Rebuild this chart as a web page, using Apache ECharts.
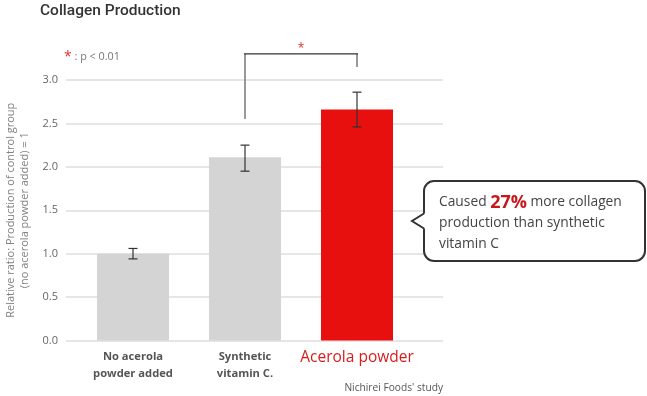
<!DOCTYPE html>
<html><head><meta charset="utf-8">
<script src="https://cdn.jsdelivr.net/npm/echarts@6/dist/echarts.min.js"></script>
<style>html,body{margin:0;padding:0;background:#fff}#c{width:647px;height:396px}</style>
</head><body><div id="c"></div>
<script>
const categories = ['No acerola\npowder added', 'Synthetic\nvitamin C.', 'Acerola powder'];
const values = [1.0, 2.11, 2.66];
const errLow = [0.94, 1.95, 2.46];
const errHigh = [1.06, 2.25, 2.86];
const barColors = ['#d4d4d4', '#d4d4d4', '#e80f0f'];
const yMin = 0, yMax = 3, yStep = 0.5;
// significance bracket: [fromIndex, toIndex, leftBottom, rightBottom, top]
const bracket = [1, 2, 2.55, 3.15, 3.30];

const FONT = '"Open Sans", Roboto, sans-serif';
const TFONT = 'Roboto, sans-serif';
const chart = echarts.init(document.getElementById('c'), null, {renderer: 'canvas'});

chart.setOption({
  animation: false,
  textStyle: {fontFamily: FONT},
  title: {text: 'Collagen Production', left: 40, top: 3, padding: 0,
    textStyle: {fontSize: 15.5, fontWeight: 500, color: '#333', fontFamily: TFONT}},
  grid: [
    {left: 66, right: 204, top: 80, bottom: 55.5, outerBoundsMode: 'none', containLabel: false},
    {left: 77, right: 234, top: 80, bottom: 55.5, outerBoundsMode: 'none', containLabel: false}
  ],
  xAxis: [
    {gridIndex: 0, type: 'value', min: 0, max: 1, show: false},
    {gridIndex: 1, type: 'category', data: categories,
      axisLine: {show: false}, axisTick: {show: false},
      axisLabel: {margin: 8, interval: 0,
        formatter: function (v, i) { return i === 2 ? '{r|' + v + '}' : '{g|' + v + '}'; },
        rich: {
          g: {fontSize: 11.2, fontWeight: 'bold', color: '#555', lineHeight: 17, fontFamily: FONT},
          r: {fontSize: 15.5, color: '#d81c1c', lineHeight: 18, fontFamily: FONT}
        }}}
  ],
  yAxis: [
    {gridIndex: 0, type: 'value', min: yMin, max: yMax, interval: yStep,
      axisLine: {show: false}, axisTick: {show: false},
      splitLine: {lineStyle: {color: '#dedede', width: 1.5}},
      axisLabel: {margin: 8, fontSize: 11, color: '#666', fontFamily: FONT, formatter: v => v.toFixed(1)},
      name: 'Relative ratio: Production of control group\n(no acerola powder added) = 1',
      nameLocation: 'middle', nameRotate: 90, nameGap: 12,
      nameTextStyle: {fontSize: 11, color: '#808080', lineHeight: 14, fontFamily: FONT}},
    {gridIndex: 1, type: 'value', min: yMin, max: yMax, interval: yStep, show: false}
  ],
  series: [
    {type: 'bar', xAxisIndex: 1, yAxisIndex: 1, barWidth: 72,
      data: values.map((v, i) => ({value: v, itemStyle: {color: barColors[i]}}))},
    {type: 'custom', xAxisIndex: 1, yAxisIndex: 1, z: 5,
      data: categories.map((c, i) => [i, errLow[i], errHigh[i]]),
      renderItem: function (params, api) {
        const lo = api.coord([api.value(0), api.value(1)]);
        const hi = api.coord([api.value(0), api.value(2)]);
        const w = 4.5;
        const st = {stroke: '#333', lineWidth: 1.2};
        return {type: 'group', children: [
          {type: 'line', shape: {x1: lo[0], y1: lo[1], x2: hi[0], y2: hi[1]}, style: st},
          {type: 'line', shape: {x1: lo[0] - w, y1: lo[1], x2: lo[0] + w, y2: lo[1]}, style: st},
          {type: 'line', shape: {x1: hi[0] - w, y1: hi[1], x2: hi[0] + w, y2: hi[1]}, style: st}
        ]};
      }},
    {type: 'custom', xAxisIndex: 1, yAxisIndex: 1, z: 5, clip: false,
      data: [bracket],
      renderItem: function (params, api) {
        const a = api.coord([api.value(0), api.value(2)]);
        const b = api.coord([api.value(1), api.value(3)]);
        const t1 = api.coord([api.value(0), api.value(4)]);
        const t2 = api.coord([api.value(1), api.value(4)]);
        const grey = {stroke: '#999', lineWidth: 2};
        return {type: 'group', children: [
          {type: 'line', shape: {x1: a[0], y1: a[1], x2: t1[0], y2: t1[1]}, style: grey},
          {type: 'line', shape: {x1: b[0], y1: b[1], x2: t2[0], y2: t2[1]}, style: grey},
          {type: 'line', shape: {x1: t1[0] - 1, y1: t1[1], x2: t2[0] + 1, y2: t2[1]}, style: {stroke: '#333', lineWidth: 1.2}},
          {type: 'text', style: {text: '*', x: (t1[0] + t2[0]) / 2, y: t1[1] - 5, fill: '#e03030',
            fontSize: 12, align: 'center', verticalAlign: 'middle', fontFamily: FONT}}
        ]};
      }}
  ],
  graphic: [
    {type: 'text', x: 64, y: 50, style: {
      text: '{a|*}{t| : p < 0.01}', rich: {
        a: {fill: '#e03030', fontSize: 14, fontFamily: FONT},
        t: {fill: '#777', fontSize: 10.8, fontFamily: FONT}}}},
    {type: 'text', x: 443, y: 388, style: {text: "Nichirei Foods' study", align: 'right', verticalAlign: 'middle',
      fill: '#555', fontSize: 10.2, fontFamily: FONT}},
    {type: 'rect', z: 10, shape: {x: 424, y: 181, width: 221, height: 80, r: 10},
      style: {fill: '#fff', stroke: '#333', lineWidth: 2}},
    {type: 'polygon', z: 11, shape: {points: [[425.5, 213], [412, 221], [425.5, 229]]},
      style: {fill: '#fff', stroke: null}},
    {type: 'polyline', z: 12, shape: {points: [[424, 213.5], [412, 221], [424, 228.5]]},
      style: {stroke: '#333', lineWidth: 2, fill: null}},
    {type: 'text', x: 439, y: 192, z: 13, style: {
      text: '{n|Caused }{r|27%}{n| more collagen}\n{n|production than synthetic}\n{n|vitamin C}',
      rich: {
        n: {fontSize: 13.8, fill: '#444', lineHeight: 21, fontFamily: FONT},
        r: {fontSize: 18, fontWeight: 'bold', fill: '#c8161d', lineHeight: 21, fontFamily: FONT}
      }}}
  ]
});
</script></body></html>
